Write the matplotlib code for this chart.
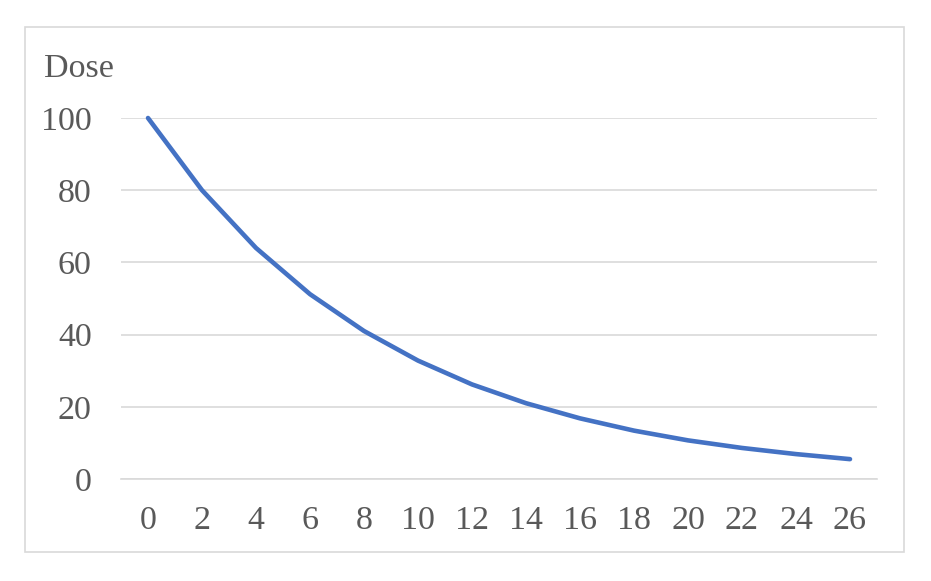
import matplotlib
matplotlib.use("Agg")
import matplotlib.pyplot as plt
from matplotlib.patches import Rectangle

weeks = ["0", "2", "4", "6", "8", "10", "12", "14", "16", "18", "20", "22", "24", "26"]
dose = [100, 80, 64, 51.2, 41, 32.8, 26.2, 21, 16.8, 13.4, 10.7, 8.6, 6.9, 5.5]
yticks = [0, 20, 40, 60, 80, 100]

W, H = 931, 581
fig = plt.figure(figsize=(W / 100, H / 100), dpi=100)
plt.rcParams['font.family'] = ['Liberation Serif', 'DejaVu Serif']

# outer border
fig.patches.append(Rectangle((25 / W, 1 - 552 / H), (904 - 25) / W, (552 - 27) / H,
                             transform=fig.transFigure, fill=False,
                             edgecolor='#D9D9D9', linewidth=1.2))

ax = fig.add_axes([121 / W, 1 - 479 / H, (877 - 121) / W, (479 - 118) / H])
x = list(range(len(weeks)))
ax.plot(x, dose, color='#4472C4', linewidth=3.3, solid_capstyle='round', clip_on=False, zorder=3)
ax.set_xlim(-0.5, len(weeks) - 0.5)
ax.set_ylim(0, 100)
ax.set_yticks(yticks)
ax.set_xticks(x)
ax.set_xticklabels(weeks)
ax.grid(axis='y', color='#D9D9D9', linewidth=1.2)
ax.set_axisbelow(True)
for s in ['top', 'right', 'left']:
    ax.spines[s].set_visible(False)
ax.spines['bottom'].set_color('#D9D9D9')
ax.spines['bottom'].set_linewidth(1.2)
ax.tick_params(axis='both', length=0, labelsize=24.5, labelcolor='#595959')
ax.tick_params(axis='y', pad=21)
ax.tick_params(axis='x', pad=19)
fig.text(44 / W, 1 - 69 / H, "Dose", fontsize=24.5, color='#595959', va='center', ha='left')

fig.savefig("out.png", dpi=100)
